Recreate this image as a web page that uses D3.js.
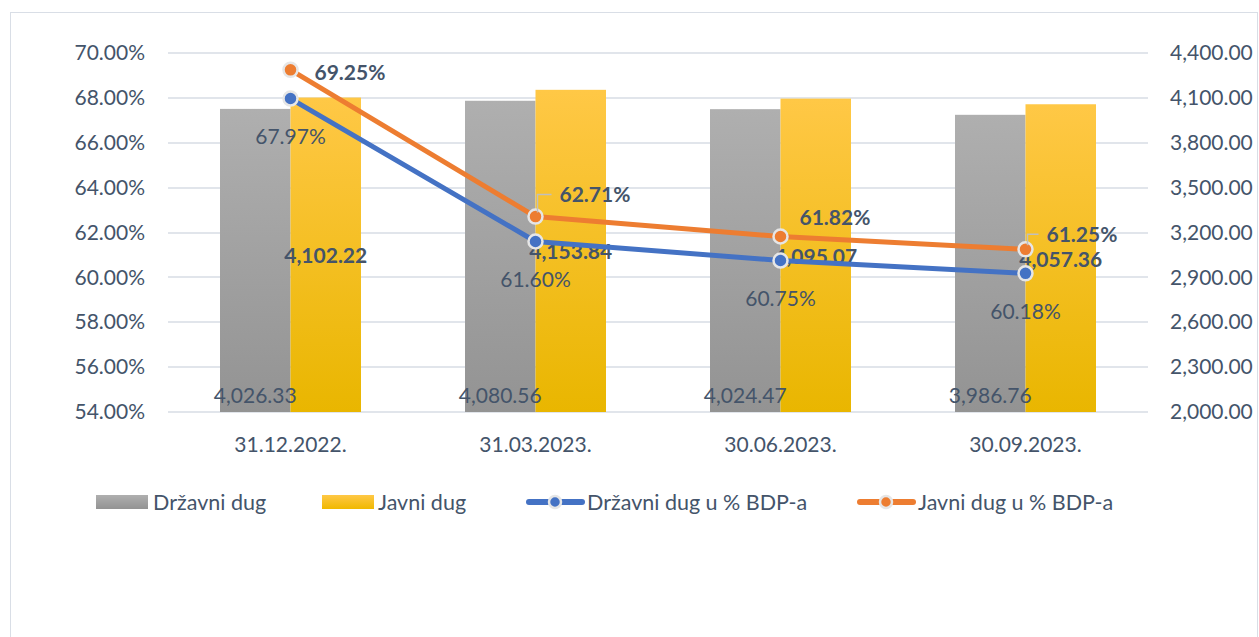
<!DOCTYPE html>
<html lang="hr">
<head>
  <meta charset="UTF-8">
  <script src="https://cdn.jsdelivr.net/npm/d3@7"></script>
  <style>
    body { margin: 0; background: #fff; }
    text { font-family: Lato, "Open Sans", sans-serif; fill: #44546A; }
  </style>
</head>
<body>
  <script>
    var categories = ['31.12.2022.', '31.03.2023.', '30.06.2023.', '30.09.2023.'];
    var drzavniDug = [4026.33, 4080.56, 4024.47, 3986.76];
    var javniDug = [4102.22, 4153.84, 4095.07, 4057.36];
    var drzavniPct = [0.6797, 0.6160, 0.6075, 0.6018];
    var javniPct = [0.6925, 0.6271, 0.6182, 0.6125];
    var leftTicks = [0.54, 0.56, 0.58, 0.60, 0.62, 0.64, 0.66, 0.68, 0.70];
    var rightTicks = [2000, 2300, 2600, 2900, 3200, 3500, 3800, 4100, 4400];

    // label placement for the bold % labels (offset from point, leader line or not)
    var javniLabelPos = [
      {dx: 24, dy: 2, leader: false},
      {dx: 24, dy: -23, leader: true},
      {dx: 19, dy: -20, leader: false},
      {dx: 21, dy: -16, leader: true}
    ];

    var width = 1259, height = 637;
    var pLeft = 168, pRight = 1148, pTop = 53, pBottom = 412;
    var fs = '21px';

    var svg = d3.select('body').append('svg')
      .attr('width', width)
      .attr('height', height);

    var defs = svg.append('defs');
    function grad(id, c1, c2) {
      var g = defs.append('linearGradient').attr('id', id)
        .attr('x1', 0).attr('y1', 0).attr('x2', 0).attr('y2', 1);
      g.append('stop').attr('offset', '0%').attr('stop-color', c1);
      g.append('stop').attr('offset', '100%').attr('stop-color', c2);
    }
    grad('gGray', '#afafaf', '#939393');
    grad('gGold', '#ffc846', '#e9b600');
    grad('gGoldLeg', '#ffc846', '#f0b800');

    // frame
    svg.append('rect')
      .attr('x', 10.5).attr('y', 12.5)
      .attr('width', 1247).attr('height', 640)
      .attr('fill', 'none')
      .attr('stroke', '#d9dee6');

    var x = d3.scaleBand().domain(categories).range([pLeft, pRight])
      .paddingInner(104 / 245).paddingOuter(52 / 245);
    var xSub = d3.scaleBand().domain(['d', 'j']).range([0, x.bandwidth()]);
    var yL = d3.scaleLinear().domain([0.54, 0.70]).range([pBottom, pTop]);
    var yR = d3.scaleLinear().domain([2000, 4400]).range([pBottom, pTop]);

    // gridlines
    svg.append('g').selectAll('line')
      .data(leftTicks)
      .enter().append('line')
      .attr('x1', pLeft).attr('x2', pRight)
      .attr('y1', function(d) { return Math.round(yL(d)); })
      .attr('y2', function(d) { return Math.round(yL(d)); })
      .attr('stroke', '#e1e5eb')
      .attr('stroke-width', 2);

    var fmtPct = d3.format('.2%');
    var fmtNum = d3.format(',.2f');

    // axes
    var axL = svg.append('g')
      .attr('transform', 'translate(' + (pLeft - 23) + ',0)')
      .call(d3.axisLeft(yL).tickValues(leftTicks).tickFormat(fmtPct).tickSize(0));
    var axR = svg.append('g')
      .attr('transform', 'translate(' + (pRight + 22) + ',0)')
      .call(d3.axisRight(yR).tickValues(rightTicks).tickFormat(fmtNum).tickSize(0));
    var axB = svg.append('g')
      .attr('transform', 'translate(0,' + (pBottom + 22) + ')')
      .call(d3.axisBottom(x).tickSize(0));
    [axL, axR, axB].forEach(function(a) {
      a.select('.domain').remove();
      a.selectAll('text')
        .style('font-family', 'Lato, "Open Sans", sans-serif')
        .style('font-size', fs)
        .attr('fill', '#44546A');
    });
    axL.selectAll('text').attr('x', 0);
    axR.selectAll('text').attr('x', 0);
    axB.selectAll('text').attr('dy', '0.71em');

    // bars
    var groups = svg.append('g').selectAll('g')
      .data(categories)
      .enter().append('g')
      .attr('transform', function(d) { return 'translate(' + x(d) + ',0)'; });

    groups.append('rect')
      .attr('x', xSub('d'))
      .attr('width', xSub.bandwidth())
      .attr('y', function(d, i) { return yR(drzavniDug[i]); })
      .attr('height', function(d, i) { return pBottom - yR(drzavniDug[i]); })
      .attr('fill', 'url(#gGray)');

    groups.append('rect')
      .attr('x', xSub('j'))
      .attr('width', xSub.bandwidth())
      .attr('y', function(d, i) { return yR(javniDug[i]); })
      .attr('height', function(d, i) { return pBottom - yR(javniDug[i]); })
      .attr('fill', 'url(#gGold)');

    // lines
    var cx = function(d, i) { return x(categories[i]) + x.bandwidth() / 2; };

    function drawLine(vals, color) {
      var line = d3.line()
        .x(function(d, i) { return cx(d, i); })
        .y(function(d) { return yL(d); });
      svg.append('path')
        .datum(vals)
        .attr('d', line)
        .attr('fill', 'none')
        .attr('stroke', color)
        .attr('stroke-width', 5)
        .attr('stroke-linejoin', 'round');
    }
    function drawMarkers(vals, color) {
      svg.append('g').selectAll('circle')
        .data(vals)
        .enter().append('circle')
        .attr('cx', cx)
        .attr('cy', function(d) { return yL(d); })
        .attr('r', 7)
        .attr('fill', color)
        .attr('stroke', '#e6e6e6')
        .attr('stroke-width', 2.5);
    }

    drawLine(drzavniPct, '#4472c4');
    drawLine(javniPct, '#ed7d31');
    drawMarkers(drzavniPct, '#4472c4');
    drawMarkers(javniPct, '#ed7d31');

    // bar labels
    groups.append('text')
      .attr('x', xSub('d') + xSub.bandwidth() / 2)
      .attr('y', pBottom - 18)
      .attr('text-anchor', 'middle')
      .attr('dominant-baseline', 'central')
      .style('font-size', fs)
      .text(function(d, i) { return fmtNum(drzavniDug[i]); });

    groups.append('text')
      .attr('x', xSub('j') + xSub.bandwidth() / 2)
      .attr('y', function(d, i) { return (yR(javniDug[i]) + pBottom) / 2; })
      .attr('text-anchor', 'middle')
      .attr('dominant-baseline', 'central')
      .style('font-size', fs)
      .style('font-weight', 'bold')
      .text(function(d, i) { return fmtNum(javniDug[i]); });

    // line labels
    svg.append('g').selectAll('text')
      .data(drzavniPct)
      .enter().append('text')
      .attr('x', cx)
      .attr('y', function(d) { return yL(d) + 37; })
      .attr('text-anchor', 'middle')
      .attr('dominant-baseline', 'central')
      .style('font-size', fs)
      .text(function(d) { return fmtPct(d); });

    javniPct.forEach(function(v, i) {
      var px = cx(v, i), py = yL(v), p = javniLabelPos[i];
      if (p.leader) {
        svg.append('path')
          .attr('d', 'M' + (px + 2) + ',' + (py - 4) + 'V' + (py + p.dy + 1) + 'H' + (px + p.dx - 8))
          .attr('fill', 'none')
          .attr('stroke', '#bfbfbf')
          .attr('stroke-width', 1.5);
      }
      svg.append('text')
        .attr('x', px + p.dx)
        .attr('y', py + p.dy)
        .attr('dominant-baseline', 'central')
        .style('font-size', fs)
        .style('font-weight', 'bold')
        .text(fmtPct(v));
    });

    // legend
    var legend = [
      {name: 'Državni dug', type: 'bar', fill: 'url(#gGray)', x: 96, tx: 153},
      {name: 'Javni dug', type: 'bar', fill: 'url(#gGoldLeg)', x: 322, tx: 378},
      {name: 'Državni dug u % BDP-a', type: 'line', color: '#4472c4', x: 527, tx: 587},
      {name: 'Javni dug u % BDP-a', type: 'line', color: '#ed7d31', x: 858, tx: 918}
    ];
    var ly = 502;
    legend.forEach(function(l) {
      if (l.type === 'bar') {
        svg.append('rect')
          .attr('x', l.x).attr('y', ly - 7)
          .attr('width', 52).attr('height', 14)
          .attr('fill', l.fill);
      } else {
        svg.append('line')
          .attr('x1', l.x + 2).attr('x2', l.x + 55)
          .attr('y1', ly).attr('y2', ly)
          .attr('stroke', l.color)
          .attr('stroke-width', 6)
          .attr('stroke-linecap', 'round');
        svg.append('circle')
          .attr('cx', l.x + 28).attr('cy', ly)
          .attr('r', 6)
          .attr('fill', l.color)
          .attr('stroke', '#e6e6e6')
          .attr('stroke-width', 2.5);
      }
      svg.append('text')
        .attr('x', l.tx).attr('y', ly)
        .attr('dominant-baseline', 'central')
        .style('font-size', '21.5px')
        .text(l.name);
    });
  </script>
</body>
</html>
